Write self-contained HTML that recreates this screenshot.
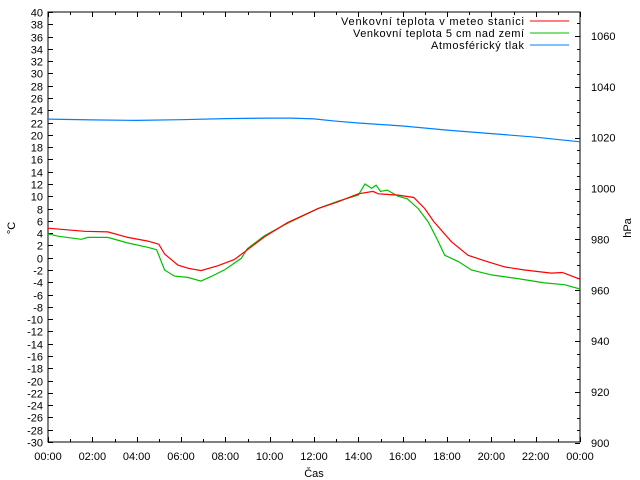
<!DOCTYPE html>
<html><head><meta charset="utf-8"><style>
body{margin:0;background:#fff}
svg{display:block;font-family:"Liberation Sans",sans-serif;font-size:11px}
</style></head><body>
<svg id="chart" width="640" height="480" viewBox="0 0 640 480">
<g id="axes"></g><g id="series"></g>
<g>
<text x="341" y="25" textLength="183" lengthAdjust="spacing">Venkovní teplota v meteo stanici</text>
<line x1="530" y1="21" x2="569" y2="21" stroke="#ff0000"/>
<text x="353" y="37" textLength="171" lengthAdjust="spacing">Venkovní teplota 5 cm nad zemí</text>
<line x1="530" y1="33" x2="569" y2="33" stroke="#00c000"/>
<text x="431" y="49" textLength="93" lengthAdjust="spacing">Atmosférický tlak</text>
<line x1="530" y1="45" x2="569" y2="45" stroke="#0080ff"/>
</g>
<text x="314" y="477" text-anchor="middle">Čas</text>
<text transform="translate(15,228) rotate(-90)" text-anchor="middle">°C</text>
<text transform="translate(631,228) rotate(-90)" text-anchor="middle">hPa</text>
</svg>
<script>
const xTickLabels=["00:00","02:00","04:00","06:00","08:00","10:00","12:00","14:00","16:00","18:00","20:00","22:00","00:00"];
const meteoHours=[0,1.65,2.7,3.6,4.5,5.0,5.26,5.86,6.3,6.9,7.67,8.4,9.0,9.77,10.8,12.18,13.08,14.0,14.66,14.9,15.8,16.5,17.0,17.4,18.2,18.95,19.7,20.6,21.5,22.7,23.2,24];
const meteoTemp=[4.8,4.3,4.2,3.3,2.7,2.2,0.6,-1.2,-1.7,-2.1,-1.3,-0.3,1.3,3.4,5.7,8.0,9.1,10.4,10.8,10.4,10.2,9.8,8.0,5.9,2.6,0.4,-0.5,-1.5,-2.0,-2.5,-2.4,-3.5];
const groundHours=[0,0.45,1.5,1.8,2.7,3.6,4.5,4.9,5.26,5.7,6.3,6.9,7.4,8.0,8.72,9.0,9.77,10.8,12.18,13.08,14.0,14.3,14.6,14.8,15.0,15.3,15.8,16.2,16.7,17.14,17.5,17.9,18.5,19.1,20.0,21.2,22.4,23.3,24];
const groundTemp=[3.9,3.5,3.0,3.3,3.3,2.4,1.7,1.3,-2.0,-3.0,-3.2,-3.8,-3.0,-1.9,-0.1,1.5,3.6,5.6,8.0,9.2,10.2,12.0,11.3,11.8,10.8,11.0,10.0,9.6,8.0,5.9,3.4,0.4,-0.6,-2.0,-2.8,-3.4,-4.1,-4.4,-5.1];
const pressHours=[0,2,4,6,8,10,11,12,13,14,16,18,20,22,24];
const pressVal=[1027.3,1027.0,1026.8,1027.1,1027.5,1027.7,1027.7,1027.4,1026.5,1025.8,1024.6,1023.0,1021.6,1020.2,1018.4];
const yTicks=[];for(let v=-30;v<=40;v+=2)yTicks.push(v);
const y2Ticks=[900,920,940,960,980,1000,1020,1040,1060];

const L=48,R=580,T=12,B=442;
const x=h=>L+(R-L)*h/24;
const y=t=>B-(B-T)*(t+30)/70;
const y2=p=>443-(p-900)*2.544;
const NS="http://www.w3.org/2000/svg";
const ax=document.getElementById('axes'),se=document.getElementById('series');
function mk(tag,attrs,parent){const e=document.createElementNS(NS,tag);for(const k in attrs)e.setAttribute(k,attrs[k]);parent.appendChild(e);return e;}
const border=mk('rect',{x:L,y:T,width:R-L,height:B-T,fill:'none',stroke:'#000'},ax);


yTicks.forEach(v=>{const yy=Math.round(y(v))+0.5;
 const t=mk('line',{x1:L,y1:yy,x2:L+5,y2:yy,stroke:'#000'},ax);
 
 
 const lb=mk('text',{x:L-5,y:yy+4,'text-anchor':'end'},ax);lb.textContent=v;
 
 });
for(let p=900;p<=1065;p+=5){const yy=Math.round(y2(p))+0.5;const major=p%20===0;
 const t=mk('line',{x1:R,y1:yy,x2:R-(major?5:3),y2:yy,stroke:'#000'},ax);
 
 }
y2Ticks.forEach(p=>{const lb=mk('text',{x:R+11,y:y2(p)+4},ax);lb.textContent=p;
 
 });
for(let h=0;h<=24;h++){const xx=Math.round(x(h))+0.5;const len=h%2===0?5:3;
 const a=mk('line',{x1:xx,y1:B,x2:xx,y2:B-len,stroke:'#000'},ax);
 
 
 const b=mk('line',{x1:xx,y1:T,x2:xx,y2:T+len,stroke:'#000'},ax);
 
 }
xTickLabels.forEach((s,i)=>{const lb=mk('text',{x:x(i*2),y:B+18,'text-anchor':'middle'},ax);lb.textContent=s;
 
 });
function line(hs,vs,fy,color,name){const pts=hs.map((h,i)=>x(h).toFixed(1)+','+fy(vs[i]).toFixed(1)).join(' ');
 const pl=mk('polyline',{points:pts,fill:'none',stroke:color,'stroke-width':1.2},se);
 
 }
line(pressHours,pressVal,y2,'#0080ff','pressure-line');
line(groundHours,groundTemp,y,'#00c000','ground-temp-line');
line(meteoHours,meteoTemp,y,'#ff0000','meteo-temp-line');
</script>
</body></html>
